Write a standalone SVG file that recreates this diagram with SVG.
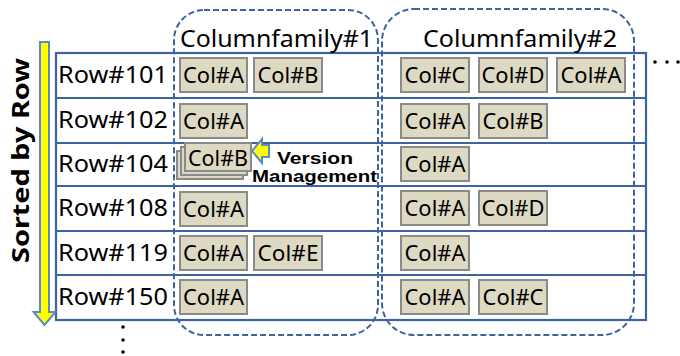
<svg xmlns="http://www.w3.org/2000/svg" width="680" height="356" viewBox="0 0 680 356">
<style>
.t{font-family:"Noto Sans","DejaVu Sans",sans-serif;fill:#000}
.row{font-size:23px}
.cf{font-size:23px}
.col{font-size:22.5px}
.box{fill:#ddd9c3;stroke:#8a8a8a;stroke-width:2}
.grid{fill:none;stroke:#3d64a0;stroke-width:2.2}
.fam{fill:none;stroke:#3d64a0;stroke-width:2;stroke-dasharray:6 3}
.dot{fill:#000}
.vm{font-family:"Liberation Sans",Arial,sans-serif;font-size:17px;font-weight:bold;fill:#000}
</style>
<rect width="680" height="356" fill="#fff"/>
<g id="table">
<rect class="grid" x="56" y="53" width="590" height="267"/>
<line class="grid" x1="56" y1="98" x2="646" y2="98"/>
<line class="grid" x1="56" y1="143" x2="646" y2="143"/>
<line class="grid" x1="56" y1="186" x2="646" y2="186"/>
<line class="grid" x1="56" y1="231" x2="646" y2="231"/>
<line class="grid" x1="56" y1="275" x2="646" y2="275"/>
</g>
<g id="family1">
<rect class="fam" x="174" y="10" width="204" height="325" rx="30"/>
<text class="t cf" x="180" y="47" textLength="193" lengthAdjust="spacingAndGlyphs">Columnfamily#1</text>
</g>
<g id="family2">
<rect class="fam" x="382" y="9" width="252" height="326" rx="32"/>
<text class="t cf" x="423" y="47" textLength="194" lengthAdjust="spacingAndGlyphs">Columnfamily#2</text>
</g>
<g id="rowlabels">
<text class="t row" x="58" y="83" textLength="110" lengthAdjust="spacingAndGlyphs">Row#101</text>
<text class="t row" x="58" y="128" textLength="110" lengthAdjust="spacingAndGlyphs">Row#102</text>
<text class="t row" x="58" y="172" textLength="110" lengthAdjust="spacingAndGlyphs">Row#104</text>
<text class="t row" x="58" y="216" textLength="110" lengthAdjust="spacingAndGlyphs">Row#108</text>
<text class="t row" x="58" y="261" textLength="110" lengthAdjust="spacingAndGlyphs">Row#119</text>
<text class="t row" x="58" y="305" textLength="110" lengthAdjust="spacingAndGlyphs">Row#150</text>
</g>
<g id="cells">
<g id="r101">
<rect class="box" x="180" y="58" width="67" height="34"/><text class="t col" x="213.5" y="83" text-anchor="middle" textLength="61" lengthAdjust="spacingAndGlyphs">Col#A</text>
<rect class="box" x="254" y="58" width="68" height="34"/><text class="t col" x="288" y="83" text-anchor="middle" textLength="61" lengthAdjust="spacingAndGlyphs">Col#B</text>
<rect class="box" x="401" y="58" width="68" height="34"/><text class="t col" x="435" y="83" text-anchor="middle" textLength="61" lengthAdjust="spacingAndGlyphs">Col#C</text>
<rect class="box" x="479" y="58" width="68" height="34"/><text class="t col" x="513" y="83" text-anchor="middle" textLength="63" lengthAdjust="spacingAndGlyphs">Col#D</text>
<rect class="box" x="557" y="58" width="68" height="34"/><text class="t col" x="591" y="83" text-anchor="middle" textLength="61" lengthAdjust="spacingAndGlyphs">Col#A</text>
</g>
<g id="r102">
<rect class="box" x="180" y="104" width="67" height="34"/><text class="t col" x="213.5" y="129" text-anchor="middle" textLength="61" lengthAdjust="spacingAndGlyphs">Col#A</text>
<rect class="box" x="401" y="104" width="68" height="34"/><text class="t col" x="435" y="129" text-anchor="middle" textLength="61" lengthAdjust="spacingAndGlyphs">Col#A</text>
<rect class="box" x="479" y="104" width="68" height="34"/><text class="t col" x="513" y="129" text-anchor="middle" textLength="61" lengthAdjust="spacingAndGlyphs">Col#B</text>
</g>
<g id="r104">
<rect class="box" x="177" y="151" width="66" height="28"/>
<rect class="box" x="181" y="147" width="66" height="28"/>
<rect class="box" x="185" y="143" width="66" height="28"/><text class="t col" x="218" y="166" text-anchor="middle" textLength="60" lengthAdjust="spacingAndGlyphs">Col#B</text>
<rect class="box" x="401" y="147" width="68" height="34"/><text class="t col" x="435" y="172" text-anchor="middle" textLength="61" lengthAdjust="spacingAndGlyphs">Col#A</text>
</g>
<g id="r108">
<rect class="box" x="180" y="192" width="67" height="34"/><text class="t col" x="213.5" y="217" text-anchor="middle" textLength="61" lengthAdjust="spacingAndGlyphs">Col#A</text>
<rect class="box" x="401" y="191" width="68" height="34"/><text class="t col" x="435" y="216" text-anchor="middle" textLength="61" lengthAdjust="spacingAndGlyphs">Col#A</text>
<rect class="box" x="479" y="191" width="68" height="34"/><text class="t col" x="513" y="216" text-anchor="middle" textLength="63" lengthAdjust="spacingAndGlyphs">Col#D</text>
</g>
<g id="r119">
<rect class="box" x="180" y="236" width="67" height="34"/><text class="t col" x="213.5" y="261" text-anchor="middle" textLength="61" lengthAdjust="spacingAndGlyphs">Col#A</text>
<rect class="box" x="254" y="236" width="68" height="34"/><text class="t col" x="288" y="261" text-anchor="middle" textLength="61" lengthAdjust="spacingAndGlyphs">Col#E</text>
<rect class="box" x="401" y="236" width="68" height="34"/><text class="t col" x="435" y="261" text-anchor="middle" textLength="61" lengthAdjust="spacingAndGlyphs">Col#A</text>
</g>
<g id="r150">
<rect class="box" x="180" y="280" width="67" height="34"/><text class="t col" x="213.5" y="305" text-anchor="middle" textLength="61" lengthAdjust="spacingAndGlyphs">Col#A</text>
<rect class="box" x="401" y="280" width="68" height="34"/><text class="t col" x="435" y="305" text-anchor="middle" textLength="61" lengthAdjust="spacingAndGlyphs">Col#A</text>
<rect class="box" x="479" y="280" width="68" height="34"/><text class="t col" x="513" y="305" text-anchor="middle" textLength="61" lengthAdjust="spacingAndGlyphs">Col#C</text>
</g>
</g>
<g id="version">
<path d="M252,151 L262,139 L262,145 L269,145 L269,157 L262,157 L262,163 Z" fill="#ffff00" stroke="#5b8ac6" stroke-width="2" stroke-linejoin="miter"/>
<text class="vm" x="277" y="163.5" textLength="76" lengthAdjust="spacingAndGlyphs">Version</text>
<text class="vm" x="252" y="182" textLength="125" lengthAdjust="spacingAndGlyphs">Management</text>
</g>
<g id="sorted">
<path d="M40,42 L49,42 L49,312 L55.5,312 L44.5,325 L33.5,312 L40,312 Z" fill="#ffff00" stroke="#5b8ac6" stroke-width="2"/>
<text class="t" transform="translate(29,160.5) rotate(-90)" x="0" y="0" text-anchor="middle" font-size="24" font-weight="bold" textLength="205" lengthAdjust="spacingAndGlyphs">Sorted by Row</text>
</g>
<g id="ellipses">
<circle class="dot" cx="655" cy="62" r="1.8"/>
<circle class="dot" cx="667" cy="62" r="1.8"/>
<circle class="dot" cx="678" cy="62" r="1.8"/>
<circle class="dot" cx="123" cy="327" r="1.8"/>
<circle class="dot" cx="123" cy="340" r="1.8"/>
<circle class="dot" cx="123" cy="352" r="1.8"/>
</g>
</svg>
